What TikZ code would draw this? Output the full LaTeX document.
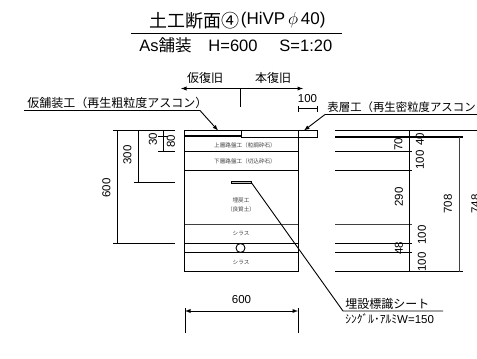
\documentclass[tikz,border=0pt]{standalone}
\usepackage{fontspec}
\setmainfont{Liberation Sans}
\newfontfamily\jp{Noto Sans CJK JP}
\begin{document}
\begin{tikzpicture}[
   x=1pt, y=-1pt,
   line width=.9pt,
   jptext/.style={
     font=\jp\fontsize{12}{12}\selectfont,
     inner sep=0pt,
    },
   tiny/.style={
     font=\jp\fontsize{5.6}{6}\selectfont,
     inner sep=0pt,
     text=black!75,
    },
   head/.style={
     font=\fontsize{16.5}{18}\selectfont,
     inner sep=0pt,
     anchor=west,
    },
   num/.style={
     font=\fontsize{11.5}{12}\selectfont,
     inner sep=0pt,
    },
   numv/.style={
     num,
     rotate=90,
    },
  ]

\clip (0,0) rectangle (477,359);
\fill[white] (0,0) rectangle (477,359);

% title
\node[head] (title) at (149.5,20.5) {\jp\fontsize{18}{18}\selectfont 土工断面④};
\node[head] (titleB) at (title.east) {\fontsize{17}{18}\selectfont(HiVP\,$\phi$\,40)};
\coordinate (titleL) at (131,33);
\coordinate (titleR) at (342,33);
\draw (titleL) -- (titleR);
\node[head] (subA) at (139,45.5) {As{\jp 舗装}};
\node[head] (subB) at (208,45.5) {H=600};
\node[head] (subC) at (279,45.5) {S=1:20};

% top dimension
\node[jptext] (kari) at (205,78) {仮復旧};
\node[jptext] (hon) at (273,78) {本復旧};
\coordinate (joint) at (240,88.5);
\coordinate (jointB) at (240,107);
\coordinate (kariE) at (181,88.5);
\coordinate (honE) at (303,88.5);
\draw (joint) -- (jointB);
\draw[-latex] (joint) -- (kariE);
\draw[-latex] (joint) -- (honE);

% 100 dimension
\node[num] (w100) at (307.5,99) {100};
\coordinate (w100L) at (298,108.5);
\coordinate (w100R) at (317,108.5);
\draw (w100L) -- (w100R);
\draw ([yshift=-3pt]w100L) -- ([yshift=3pt]w100L);
\draw ([yshift=-3pt]w100R) -- ([yshift=3pt]w100R);

% leaders
\node[jptext,anchor=west] (tmp) at (27,103) {仮舗装工（再生粗粒度アスコン）};
\coordinate (tmpL) at (24,110.5);
\coordinate (tmpK) at (200,110.5);
\coordinate (tmpE) at (218,130.5);
\draw[-latex] (tmpL) -- (tmpK) -- (tmpE);
\node[jptext,anchor=west,font=\jp\fontsize{11.4}{12}\selectfont] (surf) at (327,107) {表層工（再生密粒度アスコン};
\coordinate (surfR) at (477,114.5);
\coordinate (surfK) at (325,114.5);
\coordinate (surfE) at (304,130.5);
\draw[-latex] (surfR) -- (surfK) -- (surfE);

% section
\coordinate (boxTL) at (184.5,130.5);
\coordinate (boxBR) at (298,271.5);
\draw (boxTL) rectangle (boxBR);
\draw[line width=1.1pt] (184.5,136) -- (241,136);
\draw (241,130.5) rectangle (317,137.5);
\draw (184.5,151) -- (298,151);
\draw (184.5,170) -- (298,170);
\draw[line width=1.1pt,black!75] (184.5,224.5) -- (298,224.5);
\draw (184.5,243.5) -- (298,243.5);
\draw (184.5,252.5) -- (298,252.5);
\node[circle,draw,fill=white,minimum size=9pt,inner sep=0pt] (pipe) at (240.5,248) {};
\node[tiny] (layA) at (245,145) {上層路盤工（粒調砕石）};
\node[tiny] (layB) at (245,161) {下層路盤工（切込砕石）};
\node[tiny] (layC) at (241,200) {埋戻工};
\node[tiny] (layD) at (241,209) {（良質土）};
\node[tiny] (layE) at (241,233) {シラス};
\node[tiny] (layF) at (241,262) {シラス};

% sheet
\node[draw,fill=black!25,line width=.6pt,minimum width=20pt,minimum height=2.5pt,inner sep=0pt] (sheet) at (241,182.5) {};
\coordinate (sheetK) at (343,311);
\coordinate (sheetR) at (443,311);
\draw (sheet.east) -- (sheetK) -- (sheetR);
\node[jptext,anchor=west] (sheetA) at (345,303.5) {埋設標識シート};
\node[inner sep=0pt,anchor=west] (sheetB) at (345,318.5) {\jp\fontsize{11.5}{12}\selectfont ｼﾝｸﾞﾙ･ｱﾙﾐ\rmfamily W=150};

% bottom dimension
\node[num] (b600) at (241.5,300) {600};
\coordinate (b600L) at (185,311);
\coordinate (b600R) at (298,311);
\draw[latex-latex] (b600L) -- (b600R);
\draw ([yshift=-22pt]b600L) -- ([yshift=3pt]b600L);
\draw ([yshift=-22pt]b600R) -- ([yshift=3pt]b600R);

% left dimensions
\draw (113,130.5) -- (175,130.5);
\draw (113,243.5) -- (175,243.5);
\draw (134,182) -- (175,182);
\draw (158,151) -- (175,151);
\draw (158,136) -- (168,136);
\draw (117,130.5) -- (117,243.5);
\draw (138,130.5) -- (138,182);
\draw (163,130.5) -- (163,151);
\node[numv] (l600) at (106.5,188) {600};
\node[numv] (l300) at (127.5,155) {300};
\node[numv] (l30) at (153,139) {30};
\node[numv] (l80) at (171,141) {80};

% right dimensions
\draw (335,130.5) -- (477,130.5);
\draw[line width=1.1pt] (335,137) -- (463,137);
\draw (335,151) -- (412,151);
\draw (335,170) -- (412,170);
\draw[black!75,line width=1.1pt] (335,224.5) -- (412,224.5);
\draw (335,243.5) -- (412,243.5);
\draw (335,252.5) -- (412,252.5);
\draw[line width=1.1pt] (335,271.5) -- (463,271.5);
\draw (409,130.5) -- (409,271.5);
\draw[black!75,line width=1pt] (459,137) -- (459,271.5);
\node[numv] (r70) at (398.5,144) {70};
\node[numv] (r290) at (399,197) {290};
\node[numv] (r48) at (399,248) {48};
\node[numv] (r40) at (420,139) {40};
\node[numv] (r100a) at (420,160) {100};
\node[numv] (r100b) at (422,235) {100};
\node[numv] (r100c) at (422,262) {100};
\node[numv] (r708) at (448,204) {708};
\node[numv] (r748) at (475.5,204) {748};
\end{tikzpicture}
\end{document}
